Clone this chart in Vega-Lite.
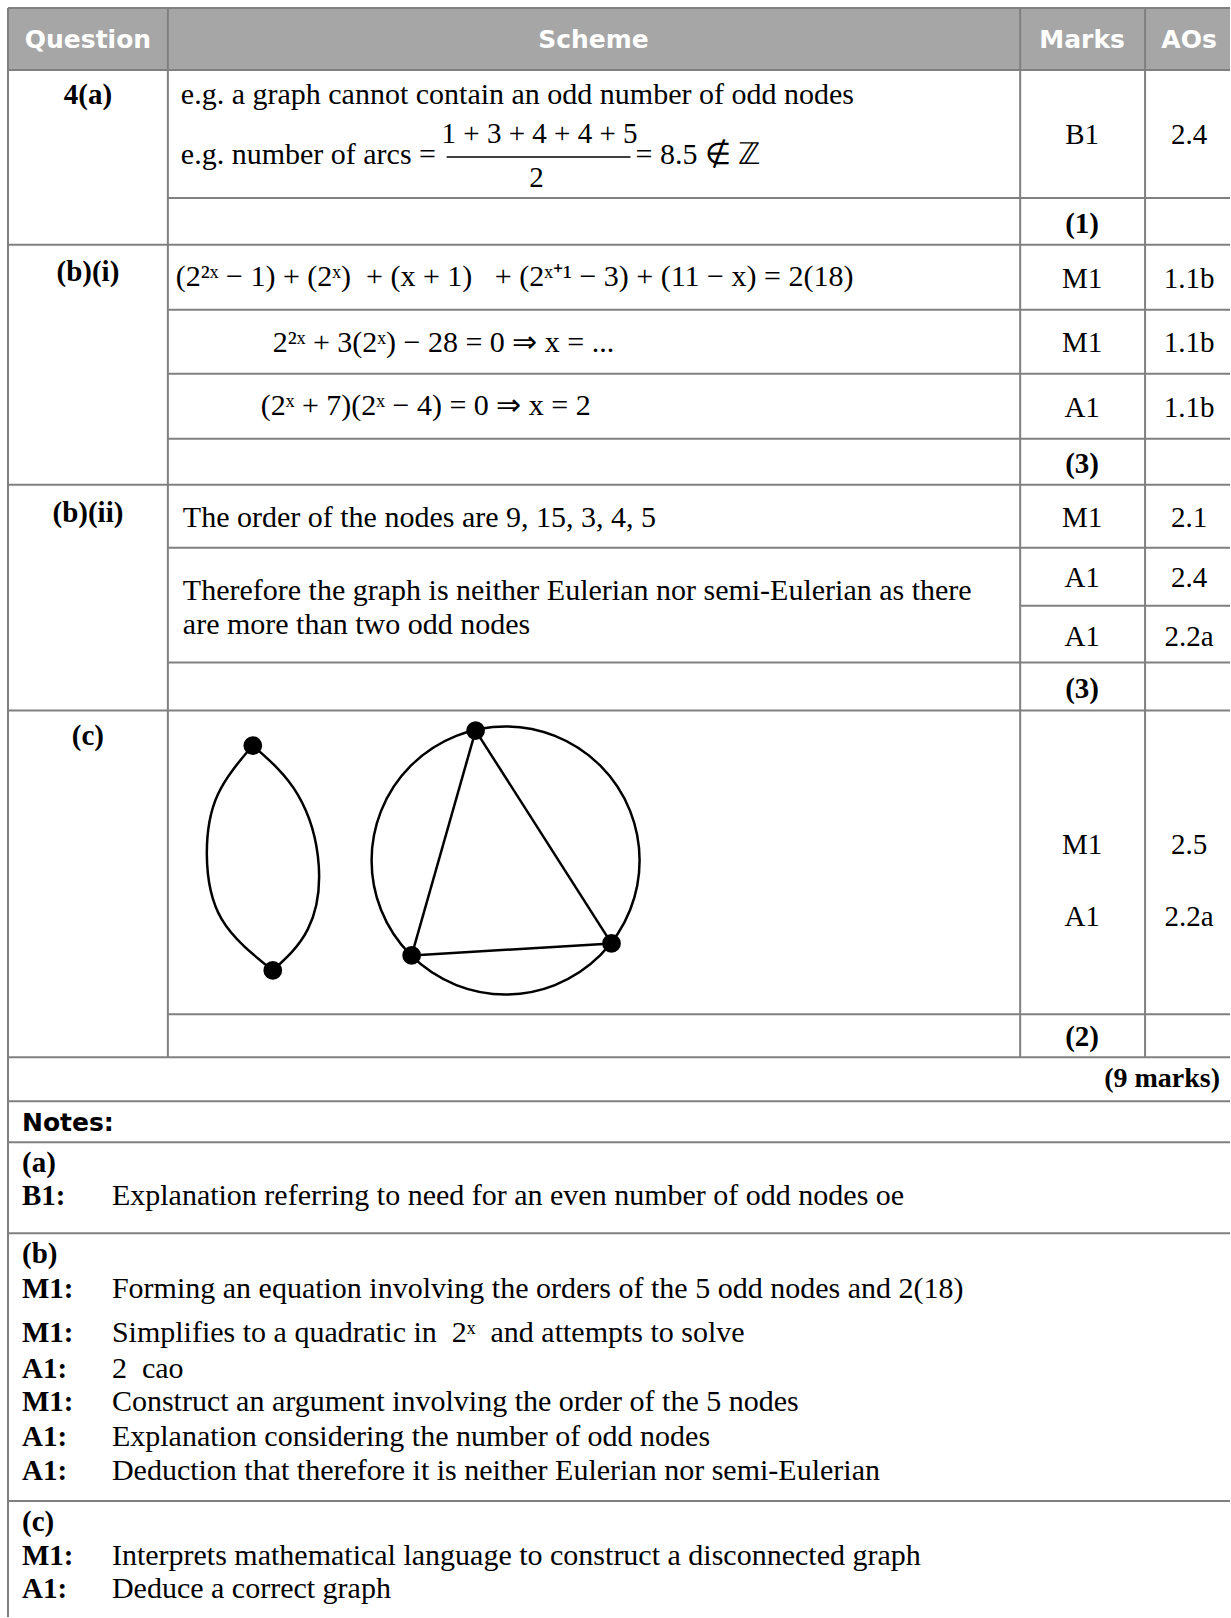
{
  "$schema": "https://vega.github.io/schema/vega-lite/v6.json",
  "width": 1231,
  "height": 1618,
  "autosize": {"type": "fit", "contains": "padding"},
  "padding": 0,
  "background": "white",
  "config": {"view": {"stroke": null}},
  "datasets": {
    "header": [{"x": 8, "x2": 1231, "y": 8, "y2": 70}],
    "grid": [
      {"x": 8, "x2": 1231, "y": 8, "y2": 8},
      {"x": 8, "x2": 1231, "y": 70, "y2": 70},
      {"x": 168, "x2": 1231, "y": 198, "y2": 198},
      {"x": 8, "x2": 1231, "y": 245, "y2": 245},
      {"x": 168, "x2": 1231, "y": 310, "y2": 310},
      {"x": 168, "x2": 1231, "y": 374, "y2": 374},
      {"x": 168, "x2": 1231, "y": 439, "y2": 439},
      {"x": 8, "x2": 1231, "y": 485, "y2": 485},
      {"x": 168, "x2": 1231, "y": 548, "y2": 548},
      {"x": 1021, "x2": 1231, "y": 606, "y2": 606},
      {"x": 168, "x2": 1231, "y": 663, "y2": 663},
      {"x": 8, "x2": 1231, "y": 711, "y2": 711},
      {"x": 168, "x2": 1231, "y": 1015, "y2": 1015},
      {"x": 8, "x2": 1231, "y": 1058, "y2": 1058},
      {"x": 8, "x2": 1231, "y": 1102, "y2": 1102},
      {"x": 8, "x2": 1231, "y": 1143, "y2": 1143},
      {"x": 8, "x2": 1231, "y": 1234, "y2": 1234},
      {"x": 8, "x2": 1231, "y": 1502, "y2": 1502},
      {"x": 8, "x2": 8, "y": 8, "y2": 1618},
      {"x": 168, "x2": 168, "y": 8, "y2": 1058},
      {"x": 1021, "x2": 1021, "y": 8, "y2": 1058},
      {"x": 1146, "x2": 1146, "y": 8, "y2": 1058}
    ],
    "headerText": [
      {"t": "Question", "x": 88, "y": 40},
      {"t": "Scheme", "x": 594, "y": 40},
      {"t": "Marks", "x": 1083, "y": 40},
      {"t": "AOs", "x": 1190, "y": 40}
    ],
    "centered": [
      {"t": "B1", "x": 1083, "y": 135},
      {"t": "2.4", "x": 1190, "y": 135},
      {"t": "M1", "x": 1083, "y": 279},
      {"t": "1.1b", "x": 1190, "y": 279},
      {"t": "M1", "x": 1083, "y": 343},
      {"t": "1.1b", "x": 1190, "y": 343},
      {"t": "A1", "x": 1083, "y": 408},
      {"t": "1.1b", "x": 1190, "y": 408},
      {"t": "M1", "x": 1083, "y": 518},
      {"t": "2.1", "x": 1190, "y": 518},
      {"t": "A1", "x": 1083, "y": 578},
      {"t": "2.4", "x": 1190, "y": 578},
      {"t": "A1", "x": 1083, "y": 637},
      {"t": "2.2a", "x": 1190, "y": 637},
      {"t": "M1", "x": 1083, "y": 846},
      {"t": "2.5", "x": 1190, "y": 846},
      {"t": "A1", "x": 1083, "y": 918},
      {"t": "2.2a", "x": 1190, "y": 918},
      {"t": "2", "x": 537, "y": 178},
      {"t": "1 + 3 + 4 + 4 + 5", "x": 540, "y": 134}
    ],
    "centeredBold": [
      {"t": "4(a)", "x": 88, "y": 95},
      {"t": "(b)(i)", "x": 88, "y": 272},
      {"t": "(b)(ii)", "x": 88, "y": 513},
      {"t": "(c)", "x": 88, "y": 736},
      {"t": "(1)", "x": 1083, "y": 224},
      {"t": "(3)", "x": 1083, "y": 464},
      {"t": "(3)", "x": 1083, "y": 689},
      {"t": "(2)", "x": 1083, "y": 1038}
    ],
    "leftText": [
      {"t": "e.g. a graph cannot contain an odd number of odd nodes", "x": 181, "y": 95},
      {"t": "e.g. number of arcs  =", "x": 181, "y": 155},
      {"t": "= 8.5 ∉ ℤ", "x": 636, "y": 155},
      {"t": "(2²ˣ − 1) + (2ˣ)\u00a0\u00a0+ (x + 1)\u00a0\u00a0\u00a0+ (2ˣ⁺¹ − 3) + (11 − x) = 2(18)", "x": 176, "y": 277},
      {"t": "2²ˣ + 3(2ˣ) − 28 = 0 ⇒ x = ...", "x": 273, "y": 343},
      {"t": "(2ˣ\u00a0+ 7)(2ˣ\u00a0− 4) = 0\u00a0⇒ x = 2", "x": 261, "y": 406},
      {"t": "The order of the nodes are 9, 15, 3, 4, 5", "x": 183, "y": 518},
      {"t": "Therefore the graph is neither Eulerian nor semi-Eulerian as there", "x": 183, "y": 591},
      {"t": "are more than two odd nodes", "x": 183, "y": 625},
      {"t": "Explanation referring to need for an even number of odd nodes oe", "x": 112, "y": 1197},
      {"t": "Forming an equation involving the orders of the 5 odd nodes and 2(18)", "x": 112, "y": 1290},
      {"t": "Simplifies to a quadratic in\u00a0 2ˣ\u00a0 and attempts to solve", "x": 112, "y": 1334},
      {"t": "2\u00a0 cao", "x": 112, "y": 1370},
      {"t": "Construct an argument involving the order of the 5 nodes", "x": 112, "y": 1403},
      {"t": "Explanation considering the number of odd nodes", "x": 112, "y": 1438},
      {"t": "Deduction that therefore it is neither Eulerian nor semi-Eulerian", "x": 112, "y": 1472},
      {"t": "Interprets mathematical language to construct a disconnected graph", "x": 112, "y": 1557},
      {"t": "Deduce a correct graph", "x": 112, "y": 1590}
    ],
    "leftBold": [
      {"t": "(a)", "x": 22, "y": 1164},
      {"t": "B1:", "x": 22, "y": 1197},
      {"t": "(b)", "x": 22, "y": 1255},
      {"t": "M1:", "x": 22, "y": 1290},
      {"t": "M1:", "x": 22, "y": 1334},
      {"t": "A1:", "x": 22, "y": 1370},
      {"t": "M1:", "x": 22, "y": 1403},
      {"t": "A1:", "x": 22, "y": 1438},
      {"t": "A1:", "x": 22, "y": 1472},
      {"t": "(c)", "x": 22, "y": 1523},
      {"t": "M1:", "x": 22, "y": 1557},
      {"t": "A1:", "x": 22, "y": 1590}
    ],
    "rightBold": [{"t": "(9 marks)", "x": 1221, "y": 1080}],
    "notesHead": [{"t": "Notes:", "x": 22, "y": 1124}],
    "fracLine": [{"x": 447, "x2": 631, "y": 157, "y2": 157}],
    "edges": [
      {"x": 476, "y": 731, "x2": 412, "y2": 956},
      {"x": 476, "y": 731, "x2": 612, "y2": 944},
      {"x": 412, "y": 956, "x2": 612, "y2": 944}
    ],
    "arcs": [
      {"arc": "left", "o": 1, "x": 253, "y": 746},
      {"arc": "left", "o": 2, "x": 218, "y": 795},
      {"arc": "left", "o": 3, "x": 207, "y": 855},
      {"arc": "left", "o": 4, "x": 222, "y": 920},
      {"arc": "left", "o": 5, "x": 273, "y": 971},
      {"arc": "right", "o": 1, "x": 253, "y": 746},
      {"arc": "right", "o": 2, "x": 298, "y": 795},
      {"arc": "right", "o": 3, "x": 319, "y": 866},
      {"arc": "right", "o": 4, "x": 308, "y": 930},
      {"arc": "right", "o": 5, "x": 273, "y": 971}
    ],
    "ring": [{"x": 506, "y": 861}],
    "nodes": [
      {"x": 253, "y": 746},
      {"x": 273, "y": 971},
      {"x": 476, "y": 731},
      {"x": 412, "y": 956},
      {"x": 612, "y": 944}
    ]
  },
  "encoding": {
    "x": {"field": "x", "type": "quantitative", "scale": {"domain": [0, 1231], "nice": false, "zero": false}, "axis": null},
    "y": {"field": "y", "type": "quantitative", "scale": {"domain": [0, 1618], "nice": false, "zero": false, "reverse": true}, "axis": null}
  },
  "layer": [
    {
      "data": {"name": "header"},
      "mark": {"type": "rect", "fill": "#a6a6a6"},
      "encoding": {"x2": {"field": "x2"}, "y2": {"field": "y2"}}
    },
    {
      "data": {"name": "grid"},
      "mark": {"type": "rule", "color": "#808080", "strokeWidth": 2},
      "encoding": {"x2": {"field": "x2"}, "y2": {"field": "y2"}}
    },
    {
      "data": {"name": "headerText"},
      "mark": {"type": "text", "font": "DejaVu Sans", "fontWeight": "bold", "fontSize": 25, "color": "white", "align": "center", "baseline": "middle"},
      "encoding": {"text": {"field": "t"}}
    },
    {
      "data": {"name": "notesHead"},
      "mark": {"type": "text", "font": "DejaVu Sans", "fontWeight": "bold", "fontSize": 25, "color": "black", "align": "left", "baseline": "middle"},
      "encoding": {"text": {"field": "t"}}
    },
    {
      "data": {"name": "centered"},
      "mark": {"type": "text", "font": "Liberation Serif", "fontSize": 29, "color": "black", "align": "center", "baseline": "middle"},
      "encoding": {"text": {"field": "t"}}
    },
    {
      "data": {"name": "centeredBold"},
      "mark": {"type": "text", "font": "Liberation Serif", "fontWeight": "bold", "fontSize": 29, "color": "black", "align": "center", "baseline": "middle"},
      "encoding": {"text": {"field": "t"}}
    },
    {
      "data": {"name": "leftText"},
      "mark": {"type": "text", "font": "Liberation Serif", "fontSize": 30, "color": "black", "align": "left", "baseline": "middle"},
      "encoding": {"text": {"field": "t"}}
    },
    {
      "data": {"name": "leftBold"},
      "mark": {"type": "text", "font": "Liberation Serif", "fontWeight": "bold", "fontSize": 29, "color": "black", "align": "left", "baseline": "middle"},
      "encoding": {"text": {"field": "t"}}
    },
    {
      "data": {"name": "rightBold"},
      "mark": {"type": "text", "font": "Liberation Serif", "fontWeight": "bold", "fontSize": 28, "color": "black", "align": "right", "baseline": "middle"},
      "encoding": {"text": {"field": "t"}}
    },
    {
      "data": {"name": "fracLine"},
      "mark": {"type": "rule", "color": "black", "strokeWidth": 1.5},
      "encoding": {"x2": {"field": "x2"}, "y2": {"field": "y2"}}
    },
    {
      "data": {"name": "edges"},
      "mark": {"type": "rule", "color": "black", "strokeWidth": 2.5},
      "encoding": {"x2": {"field": "x2"}, "y2": {"field": "y2"}}
    },
    {
      "data": {"name": "arcs"},
      "mark": {"type": "line", "color": "black", "strokeWidth": 2.5, "interpolate": "natural"},
      "encoding": {"detail": {"field": "arc"}, "order": {"field": "o", "type": "quantitative"}}
    },
    {
      "data": {"name": "ring"},
      "mark": {"type": "point", "shape": "circle", "filled": false, "stroke": "black", "strokeWidth": 2.5, "size": 71824, "opacity": 1}
    },
    {
      "data": {"name": "nodes"},
      "mark": {"type": "point", "shape": "circle", "filled": true, "fill": "black", "stroke": "black", "size": 280, "opacity": 1}
    }
  ]
}
